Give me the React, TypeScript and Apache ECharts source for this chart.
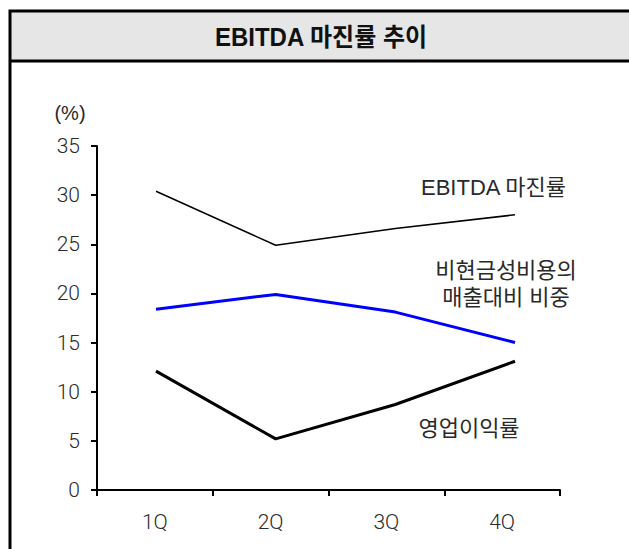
import React, { useEffect, useRef } from "react";
import * as echarts from "echarts";

const categories = ["1Q", "2Q", "3Q", "4Q"];
const ebitdaMargin = [30.4, 24.9, 26.6, 28.0];
const nonCashRatio = [18.4, 19.9, 18.1, 15.0];
const operatingMargin = [12.1, 5.2, 8.7, 13.1];
const yTicks = { min: 0, max: 35, interval: 5 };

const FONT = "'Liberation Sans', 'Noto Sans CJK KR', sans-serif";
const TICK_FONT = "Roboto, 'Liberation Sans', sans-serif";
const TEXT = "#2a2a2a";

export default function App() {
  const ref = useRef<HTMLDivElement>(null);
  useEffect(() => {
    if (!ref.current) return;
    const chart = echarts.init(ref.current, null, { renderer: "svg" });
    const txt = (
      text: string,
      x: number,
      y: number,
      align = "center",
      size = 22,
      weight: any = "normal",
      scaleX = 1,
      fill = TEXT
    ) => ({
      type: "text",
      x,
      y,
      scaleX,
      style: {
        text,
        fill,
        font: `${weight} ${size}px ${FONT}`,
        align,
        verticalAlign: "middle",
      },
      z: 10,
    });
    chart.setOption({
      animation: false,
      backgroundColor: "#fff",
      graphic: [
        {
          type: "rect",
          shape: { x: 10, y: 11, width: 640, height: 50 },
          style: { fill: "#e6e6e6", stroke: "none" },
          z: 1,
        },
        {
          type: "rect",
          shape: { x: 10, y: 11, width: 640, height: 560 },
          style: { fill: "none", stroke: "#000", lineWidth: 3 },
          z: 2,
        },
        {
          type: "line",
          shape: { x1: 10, y1: 61, x2: 640, y2: 61 },
          style: { stroke: "#000", lineWidth: 3 },
          z: 2,
        },
        txt("EBITDA 마진률 추이", 321, 37, "center", 25, "bold", 0.96, "#111"),
        txt("(%)", 70, 113, "center", 20),
        txt("EBITDA 마진률", 421, 187, "left", 22),
        txt("비현금성비용의", 506, 270, "center", 22),
        txt("매출대비 비중", 506, 297, "center", 22),
        txt("영업이익률", 469, 428, "center", 22),
      ],
      grid: [
        { left: 97, right: 69, top: 146, bottom: 59 },
        { left: 156, right: 114, top: 146, bottom: 59 },
      ],
      xAxis: [
        {
          type: "category",
          gridIndex: 0,
          data: categories,
          boundaryGap: true,
          axisLine: { lineStyle: { color: "#000", width: 2 } },
          axisTick: { show: true, length: 6, inside: false, lineStyle: { color: "#000", width: 2 } },
          axisLabel: { color: TEXT, fontSize: 21, fontFamily: TICK_FONT, fontWeight: 300, margin: 21 },
          splitLine: { show: false },
        },
        {
          type: "category",
          gridIndex: 1,
          data: categories,
          boundaryGap: false,
          show: false,
        },
      ],
      yAxis: [
        {
          type: "value",
          gridIndex: 0,
          min: yTicks.min,
          max: yTicks.max,
          interval: yTicks.interval,
          axisLine: { show: true, lineStyle: { color: "#000", width: 2 } },
          axisTick: { show: true, length: 6, lineStyle: { color: "#000", width: 2 } },
          axisLabel: { color: TEXT, fontSize: 21, fontFamily: TICK_FONT, fontWeight: 300, margin: 17 },
          splitLine: { show: false },
        },
        {
          type: "value",
          gridIndex: 1,
          min: yTicks.min,
          max: yTicks.max,
          interval: yTicks.interval,
          show: false,
          splitLine: { show: false },
        },
      ],
      series: [
        {
          name: "EBITDA 마진률",
          type: "line",
          xAxisIndex: 1,
          yAxisIndex: 1,
          data: ebitdaMargin,
          symbol: "none",
          lineStyle: { color: "#000", width: 1.5 },
        },
        {
          name: "비현금성비용의 매출대비 비중",
          type: "line",
          xAxisIndex: 1,
          yAxisIndex: 1,
          data: nonCashRatio,
          symbol: "none",
          lineStyle: { color: "#0000ff", width: 3 },
        },
        {
          name: "영업이익률",
          type: "line",
          xAxisIndex: 1,
          yAxisIndex: 1,
          data: operatingMargin,
          symbol: "none",
          lineStyle: { color: "#000", width: 3 },
        },
      ],
    });
    return () => chart.dispose();
  }, []);
  return (
    <div
      ref={ref}
      style={{ position: "fixed", left: 0, top: 0, width: 629, height: 549 }}
    />
  );
}
